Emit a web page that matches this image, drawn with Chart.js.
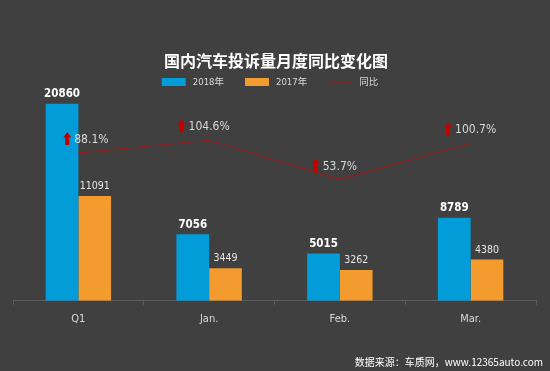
<!DOCTYPE html>
<html>
<head>
<meta charset="utf-8">
<script src="https://cdn.jsdelivr.net/npm/chart.js@4/dist/chart.umd.min.js"></script>
<style>
  html, body { margin: 0; padding: 0; background: #404040; }
  #wrap { width: 550px; height: 371px; position: relative; }
</style>
</head>
<body>
<div id="wrap"><canvas id="c"></canvas></div>
<script>
const categories = ["Q1", "Jan.", "Feb.", "Mar."];
const sales2018 = [20860, 7056, 5015, 8789];
const sales2017 = [11091, 3449, 3262, 4380];
const yoyRate = [88.1, 104.6, 53.7, 100.7];

const titleText = "国内汽车投诉量月度同比变化图";
const sourceText = "数据来源：车质网，www.12365auto.com";

const BLUE = "#029dd9";
const ORANGE = "#f39b2f";
const LINE_RED = "#931c1c";
const ARROW_RED = "#c00000";
const NARROW = '"Liberation Sans Narrow", "DejaVu Sans Condensed", "Noto Sans CJK SC", sans-serif';
const CJK = '"Noto Sans CJK SC", "Noto Sans", sans-serif';

// little sideways nudge of the % labels, as in the original
const rateLabelShift = [13, 0, 0, 5];

function drawArrow(ctx, cx, bottom) {
  ctx.fillStyle = ARROW_RED;
  ctx.beginPath();
  ctx.moveTo(cx, bottom - 13);
  ctx.lineTo(cx + 4, bottom - 7.5);
  ctx.lineTo(cx + 2, bottom - 7.5);
  ctx.lineTo(cx + 2, bottom);
  ctx.lineTo(cx - 2, bottom);
  ctx.lineTo(cx - 2, bottom - 7.5);
  ctx.lineTo(cx - 4, bottom - 7.5);
  ctx.closePath();
  ctx.fill();
}

const decorPlugin = {
  id: "decor",
  afterDatasetsDraw(chart) {
    const ctx = chart.ctx;
    ctx.save();

    // title
    ctx.fillStyle = "#ffffff";
    ctx.font = "bold 16px " + CJK;
    ctx.textAlign = "center";
    ctx.textBaseline = "middle";
    ctx.fillText(titleText, 276, 61);

    // legend
    const items = chart.data.datasets.map(ds => ({ label: ds.label, color: ds.type === "line" ? ds.borderColor : ds.backgroundColor, line: ds.type === "line" }));
    ctx.font = "9.5px " + NARROW;
    let total = 0;
    items.forEach((it, i) => { it.w = 24 + 7 + ctx.measureText(it.label).width; total += it.w + (i ? 21 : 0); });
    let x = 270 - total / 2;
    const ly = 82;
    items.forEach(it => {
      if (it.line) {
        ctx.strokeStyle = it.color; ctx.lineWidth = 1.2;
        ctx.beginPath(); ctx.moveTo(x, ly); ctx.lineTo(x + 24, ly); ctx.stroke();
      } else {
        ctx.fillStyle = it.color; ctx.fillRect(x, ly - 4, 24, 8);
      }
      ctx.fillStyle = "#d9d9d9"; ctx.textAlign = "left";
      ctx.fillText(it.label, x + 31, ly + 0.5);
      x += it.w + 21;
    });

    // bar values
    [0, 1].forEach(di => {
      const meta = chart.getDatasetMeta(di);
      const vals = chart.data.datasets[di].data;
      ctx.textAlign = "center";
      ctx.font = di === 0 ? "bold 11.5px " + NARROW : "10.5px " + NARROW;
      ctx.fillStyle = di === 0 ? "#ffffff" : "#e6e6e6";
      meta.data.forEach((el, i) => ctx.fillText(String(vals[i]), el.x, el.y - 9.5));
    });

    // year-on-year labels with arrows
    const lmeta = chart.getDatasetMeta(2);
    ctx.font = "12px " + NARROW;
    lmeta.data.forEach((pt, i) => {
      const txt = yoyRate[i].toFixed(1) + "%";
      const w = ctx.measureText(txt).width;
      const cx = pt.x + rateLabelShift[i];
      const left = cx - w / 2;
      const ty = pt.y - 13;
      ctx.fillStyle = "#d9d9d9"; ctx.textAlign = "left";
      ctx.fillText(txt, left, ty);
      drawArrow(ctx, left - 7, ty + 5);
    });

    // source note
    ctx.font = "10px " + CJK;
    ctx.fillStyle = "#ffffff";
    ctx.textAlign = "right";
    ctx.fillText(sourceText, 543, 362);
    ctx.restore();
  }
};

new Chart(document.getElementById("c"), {
  type: "bar",
  data: {
    labels: categories,
    datasets: [
      { label: "2018年", data: sales2018, backgroundColor: BLUE, yAxisID: "y", categoryPercentage: 0.5, barPercentage: 1, order: 2 },
      { label: "2017年", data: sales2017, backgroundColor: ORANGE, yAxisID: "y", categoryPercentage: 0.5, barPercentage: 1, order: 2 },
      { type: "line", label: "同比", data: yoyRate, borderColor: LINE_RED, borderWidth: 1.2, pointRadius: 0, tension: 0, yAxisID: "y2", order: 1 }
    ]
  },
  options: {
    responsive: true,
    maintainAspectRatio: false,
    animation: false,
    layout: { padding: { top: 93, left: 13, right: 14, bottom: 37 } },
    plugins: { legend: { display: false }, title: { display: false }, tooltip: { enabled: false } },
    scales: {
      x: {
        grid: { display: true, drawOnChartArea: false, drawTicks: true, tickLength: 4, color: "#5c5c5c", offset: true },
        border: { color: "#5c5c5c", width: 1 },
        ticks: { color: "#d9d9d9", font: { size: 11, family: NARROW }, padding: 8 }
      },
      y: { display: false, min: 0, max: 22000 },
      y2: { display: false, min: -104, max: 166 }
    }
  },
  plugins: [decorPlugin]
});
</script>
</body>
</html>
